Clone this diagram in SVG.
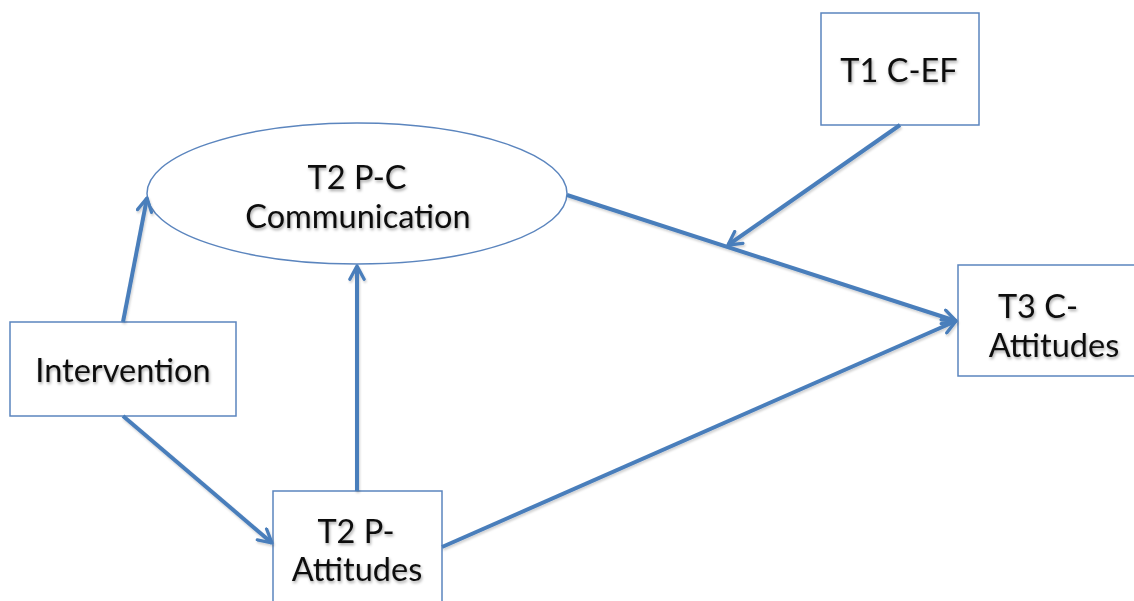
<svg xmlns="http://www.w3.org/2000/svg" width="1134" height="601" viewBox="0 0 1134 601">
  <defs>
    <filter id="txtShadow" x="-10%" y="-30%" width="120%" height="160%">
      <feDropShadow dx="1" dy="2" stdDeviation="1.4" flood-color="#000" flood-opacity="0.35"/>
    </filter>
    <filter id="lineShadow" x="-10%" y="-10%" width="120%" height="120%">
      <feDropShadow dx="1" dy="2" stdDeviation="1.2" flood-color="#000" flood-opacity="0.18"/>
    </filter>
    <marker id="chevron" viewBox="0 0 16 16" refX="14" refY="8" markerWidth="4.4" markerHeight="4.4" markerUnits="strokeWidth" orient="auto">
      <path d="M2,1.5 L14,8 L2,14.5" fill="none" stroke="#4a7ebb" stroke-width="3" stroke-linecap="round" stroke-linejoin="round"/>
    </marker>
  </defs>
  <style>
    .node { fill: #ffffff; stroke: #5b85be; stroke-width: 1.5; }
    .edge { fill: none; stroke: #4a7ebb; stroke-width: 4; marker-end: url(#chevron); }
    .label { font-family: Lato, "Open Sans", "Liberation Sans", sans-serif; font-size: 32.5px; fill: #111111; text-anchor: middle; filter: url(#txtShadow); }
  </style>

  <rect width="1134" height="601" fill="#ffffff"/>

  <!-- node shapes -->
  <g id="node-communication">
    <ellipse class="node" cx="357" cy="193.5" rx="210" ry="70.5"/>
    <text class="label" x="357" y="189">T2 P-C</text>
    <text class="label" x="358" y="228">Communication</text>
  </g>

  <g id="node-intervention">
    <rect class="node" x="10" y="322" width="226" height="94"/>
    <text class="label" x="123" y="382">Intervention</text>
  </g>

  <g id="node-parent-attitudes">
    <rect class="node" x="273" y="491" width="169" height="130"/>
    <text class="label" x="356" y="543">T2 P-</text>
    <text class="label" x="357" y="581">Attitudes</text>
  </g>

  <g id="node-executive-function">
    <rect class="node" x="821" y="13" width="158" height="112"/>
    <text class="label" x="899" y="82">T1 C-EF</text>
  </g>

  <g id="node-child-attitudes">
    <rect class="node" x="958" y="265" width="190" height="111"/>
    <text class="label" x="1038" y="318">T3 C-</text>
    <text class="label" x="1054" y="357">Attitudes</text>
  </g>

  <!-- connectors -->
  <g id="connectors" filter="url(#lineShadow)">
    <line class="edge" x1="123" y1="322" x2="147" y2="198"/>
    <line class="edge" x1="123" y1="416" x2="272" y2="543"/>
    <line class="edge" x1="357" y1="491" x2="357" y2="266"/>
    <line class="edge" x1="442" y1="547" x2="956" y2="321"/>
    <line class="edge" x1="567" y1="195" x2="956" y2="321"/>
    <line class="edge" x1="900" y1="125" x2="728" y2="245"/>
  </g>
</svg>
